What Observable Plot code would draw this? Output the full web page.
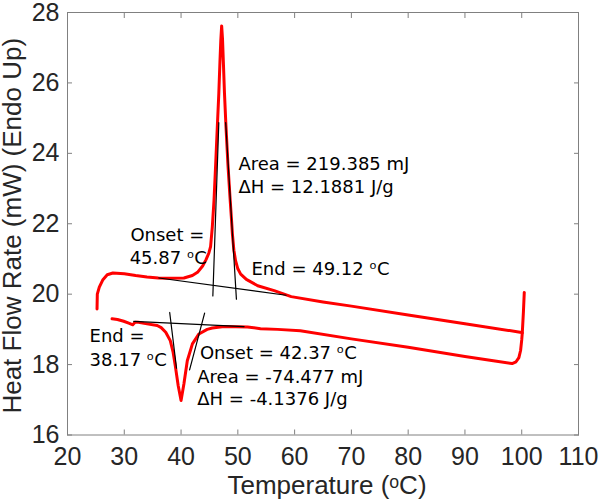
<!DOCTYPE html>
<html><head><meta charset="utf-8">
<script src="https://cdn.jsdelivr.net/npm/d3@7"></script>
<script src="https://cdn.jsdelivr.net/npm/@observablehq/plot@0.6"></script>
<style>html,body{margin:0;padding:0;background:#fff}</style>
</head><body><div id="chart"></div>
<script>
// Heating scan (upper curve): temperature (°C) and heat flow (mW)
const heatT = [25.2, 25.25, 25.6, 26.2, 27.0, 28.0, 30.0, 32.0, 34.0, 36.0, 38.0, 40.5, 42.0, 42.9, 43.8, 44.4, 44.9, 45.2, 45.5, 45.8, 46.1, 46.4, 46.65, 46.85, 47.0, 47.15, 47.3, 47.45, 47.65, 47.9, 48.25, 48.6, 48.85, 49.05, 49.3, 49.6, 50.0, 50.5, 51.5, 53.5, 56.4, 59.4, 65.0, 70.0, 80.0, 90.0, 99.7, 100.1, 100.3, 100.45];
const heatQ = [19.58, 20.0, 20.2, 20.4, 20.55, 20.6, 20.58, 20.53, 20.49, 20.46, 20.45, 20.46, 20.53, 20.62, 20.8, 20.98, 21.17, 21.35, 21.9, 22.65, 23.7, 24.8, 25.7, 26.6, 27.2, 27.62, 27.25, 26.6, 25.7, 24.8, 23.7, 22.8, 22.2, 21.7, 21.25, 20.95, 20.72, 20.57, 20.42, 20.24, 20.1, 19.93, 19.78, 19.66, 19.41, 19.16, 18.92, 18.9, 19.5, 20.05];
// Cooling scan (lower curve)
const coolT = [100.1, 100.0, 99.8, 99.5, 99.0, 98.3, 95.0, 90.0, 80.0, 70.0, 61.0, 57.0, 54.0, 51.7, 47.6, 45.5, 44.6, 43.15, 42.0, 41.1, 40.5, 40.0, 39.5, 39.0, 38.6, 38.1, 37.3, 36.5, 35.8, 33.5, 32.5, 31.9, 31.5, 30.9, 29.9, 28.8, 27.85];
const coolQ = [18.9, 18.7, 18.4, 18.2, 18.08, 18.03, 18.11, 18.23, 18.49, 18.73, 18.96, 19.0, 19.02, 19.07, 19.08, 19.04, 19.0, 18.87, 18.59, 18.11, 17.45, 16.98, 17.4, 17.95, 18.35, 18.68, 18.92, 19.05, 19.11, 19.17, 19.2, 19.2, 19.13, 19.17, 19.23, 19.28, 19.3];
// Tangent / baseline construction lines
const tangentId = ["hBase", "hBase", "hLeft", "hLeft", "hRight", "hRight", "cBase", "cBase", "cLeft", "cLeft", "cRight", "cRight"];
const tangentT = [36.1, 58.5, 45.6, 46.65, 47.86, 49.75, 31.66, 51.1, 38.0, 39.2, 44.15, 41.5];
const tangentQ = [20.46, 19.97, 19.95, 24.87, 24.87, 19.86, 19.23, 19.08, 19.48, 17.9, 19.46, 17.85];
// Annotations
const noteText = ["Area = 219.385 mJ", "ΔH = 12.1881 J/g", "Onset =", "45.87 ᵒC", "End = 49.12 ᵒC", "End =", "38.17 ᵒC", "Onset = 42.37 ᵒC", "Area = -74.477 mJ", "ΔH = -4.1376 J/g"];
const noteT = [50.1, 50.1, 31.08, 30.95, 52.4, 23.89, 23.89, 43.32, 42.86, 42.86];
const noteQ = [23.53, 22.86, 21.5, 20.86, 20.55, 18.63, 17.97, 18.16, 17.47, 16.84];
// Ticks
const xTicks = [20, 30, 40, 50, 60, 70, 80, 90, 100, 110];
const yTicks = [16, 18, 20, 22, 24, 26, 28];
const xLabel = "Temperature (ᵒC)";
const yLabel = "Heat Flow Rate (mW) (Endo Up)";

const heat = heatT.map((t, i) => ({t, q: heatQ[i]}));
const cool = coolT.map((t, i) => ({t, q: coolQ[i]}));
const tangents = tangentT.map((t, i) => ({id: tangentId[i], t, q: tangentQ[i]}));
const notes = noteText.map((text, i) => ({text, t: noteT[i], q: noteQ[i]}));

const frameColor = "#808080";
const tickFont = "Liberation Sans, Arial, Helvetica, sans-serif";
const noEmpty = () => "";

const chart = Plot.plot({
  width: 600,
  height: 499,
  marginLeft: 67,
  marginRight: 22,
  marginTop: 12,
  marginBottom: 64.5,
  style: {background: "#fff", overflow: "visible"},
  x: {domain: [20, 110], axis: null},
  y: {domain: [16, 28], axis: null},
  marks: [
    Plot.line(heat, {x: "t", y: "q", stroke: "#ff0000", strokeWidth: 3, curve: "linear"}),
    Plot.line(cool, {x: "t", y: "q", stroke: "#ff0000", strokeWidth: 3, curve: "linear"}),
    Plot.line(tangents, {x: "t", y: "q", z: "id", stroke: "#000", strokeWidth: 1.2}),
    Plot.text(notes, {x: "t", y: "q", text: "text", textAnchor: "start", lineAnchor: "bottom", fontFamily: "DejaVu Sans", fontSize: 18, fill: "#000"}),
    Plot.frame({stroke: frameColor, strokeWidth: 1}),
    Plot.axisX(xTicks, {anchor: "bottom", tickSize: 5, dy: -5, tickFormat: noEmpty, stroke: frameColor, label: null}),
    Plot.axisX(xTicks, {anchor: "top", tickSize: 5, dy: 5, tickFormat: noEmpty, stroke: frameColor, label: null}),
    Plot.axisY(yTicks, {anchor: "left", tickSize: 5, dx: 5, tickFormat: noEmpty, stroke: frameColor, label: null}),
    Plot.axisY(yTicks, {anchor: "right", tickSize: 5, dx: -5, tickFormat: noEmpty, stroke: frameColor, label: null}),
    Plot.axisX(xTicks, {anchor: "bottom", tickSize: 0, tickPadding: 12, fontSize: 25, fontFamily: tickFont, fill: "#262626", label: null}),
    Plot.axisY(yTicks, {anchor: "left", tickSize: 0, tickPadding: 8, fontSize: 25, fontFamily: tickFont, fill: "#262626", label: null}),
    Plot.text([xLabel], {frameAnchor: "bottom", textAnchor: "middle", lineAnchor: "bottom", dy: 58.5, dx: 4, fontSize: 26, fontFamily: tickFont, fill: "#262626"}),
    Plot.text([yLabel], {frameAnchor: "left", textAnchor: "middle", rotate: -90, lineAnchor: "bottom", dx: -46.3, dy: 2, fontSize: 26, fontFamily: tickFont, fill: "#262626"})
  ]
});
document.getElementById("chart").appendChild(chart);
</script>
</body></html>
